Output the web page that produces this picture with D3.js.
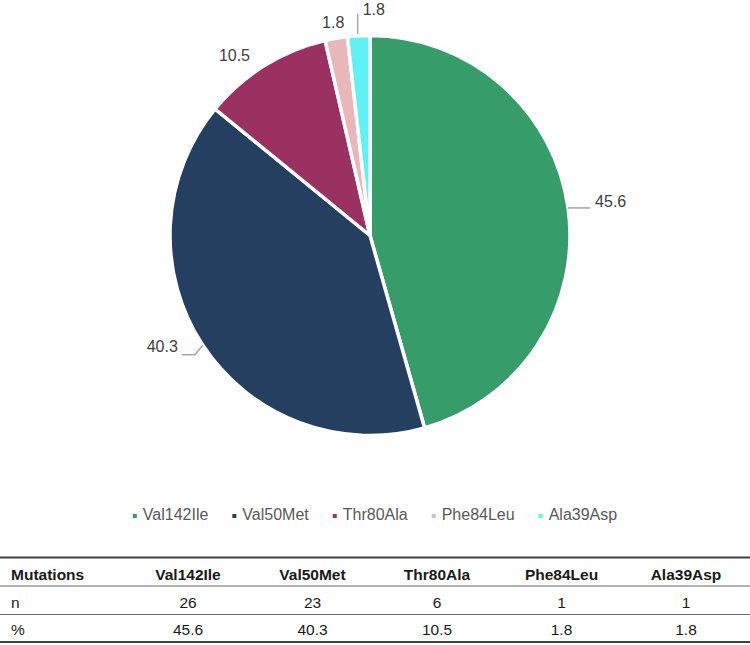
<!DOCTYPE html>
<html>
<head>
<meta charset="utf-8">
<script src="https://cdn.jsdelivr.net/npm/d3@7"></script>
<style>
  html, body { margin: 0; padding: 0; background: #fff; }
  svg { display: block; }
</style>
</head>
<body>
<svg id="chart" width="750" height="645"></svg>
<script>
// ---- data ----
const categories = ["Val142Ile", "Val50Met", "Thr80Ala", "Phe84Leu", "Ala39Asp"];
const percents   = [45.6, 40.3, 10.5, 1.8, 1.8];
const counts     = [26, 23, 6, 1, 1];
const percentLabels = ["45.6", "40.3", "10.5", "1.8", "1.8"];
const tableHeader = "Mutations";
const rowLabels = ["n", "%"];

// ---- styles / layout ----
const colors = ["#359c6a", "#243f5f", "#9a3160", "#e9b6b9", "#5ef2f4"];
const labelLayout = [
  {dx: 27, dy: -5.5, anchor: "start", leader: [[0, 0], [22, 0]]},
  {dx: -25, dy: 2.5, anchor: "end", leader: [[0, 0], [-8, 9.5], [-21, 9.5]]},
  {dx: -30, dy: -9, anchor: "middle", leader: null},
  {dx: -3, dy: -15, anchor: "middle", leader: null},
  {dx: 4, dy: -25, anchor: "start", leader: [[-1, -2], [-1, -22]]}
];

const svg = d3.select("#chart");
const cx = 370, cy = 235.5, R = 200;

const pie = d3.pie().sort(null).value(d => d)(percents);
const arc = d3.arc().innerRadius(0).outerRadius(R);

const g = svg.append("g").attr("transform", `translate(${cx},${cy})`);
g.selectAll("path.slice").data(pie).join("path")
  .attr("class", "slice")
  .attr("d", arc)
  .attr("fill", (d, i) => colors[i])
  .attr("stroke", "#fff")
  .attr("stroke-width", 3.5)
  .attr("stroke-linejoin", "miter");

// labels
pie.forEach((d, i) => {
  const a = (d.startAngle + d.endAngle) / 2;
  const px = R * Math.sin(a), py = -R * Math.cos(a);
  const L = labelLayout[i];
  if (L.leader) {
    g.append("path")
      .attr("d", d3.line()(L.leader.map(p => [px + p[0], py + p[1]])))
      .attr("fill", "none")
      .attr("stroke", "#a6a6a6")
      .attr("stroke-width", 1.5);
  }
  g.append("text")
    .attr("x", px + L.dx)
    .attr("y", py + L.dy)
    .attr("text-anchor", L.anchor)
    .attr("dominant-baseline", "middle")
    .attr("font-family", "Liberation Sans, Arial, sans-serif")
    .attr("font-size", 16)
    .attr("fill", "#404040")
    .text(percentLabels[i]);
});

// legend
const legend = svg.append("g").attr("transform", "translate(0,516)");
const items = legend.selectAll("g").data(categories).join("g");
items.append("rect").attr("width", 4).attr("height", 4).attr("y", -2)
  .attr("fill", (d, i) => colors[i]);
items.append("text").attr("x", 10).attr("y", 0)
  .attr("dominant-baseline", "middle")
  .attr("font-family", "Liberation Sans, Arial, sans-serif")
  .attr("font-size", 16)
  .attr("fill", "#595959")
  .text(d => d);
let xoff = 0;
const widths = [];
items.each(function() {
  widths.push(d3.select(this).select("text").node().getComputedTextLength());
});
const gap = 24;
const total = d3.sum(widths) + widths.length * 10 + gap * (widths.length - 1);
xoff = 375 - total / 2;
items.attr("transform", (d, i) => {
  const t = `translate(${xoff},0)`;
  xoff += 10 + widths[i] + gap;
  return t;
});

// table
const tFont = "'Liberation Sans', Arial, sans-serif";
const colX = d3.scalePoint().domain(categories).range([188, 686]);
const tbl = svg.append("g");
const lines = [{y: 557.5, w: 2}, {y: 586, w: 1}, {y: 614.5, w: 1}, {y: 642, w: 2}];
tbl.selectAll("line").data(lines).join("line")
  .attr("x1", 0).attr("x2", 750)
  .attr("y1", d => d.y).attr("y2", d => d.y)
  .attr("stroke", d => d.w > 1 ? "#404040" : "#6b6b6b")
  .attr("stroke-width", d => d.w);

function cellText(x, y, txt, anchor, bold) {
  tbl.append("text").attr("x", x).attr("y", y)
    .attr("text-anchor", anchor)
    .attr("font-family", tFont)
    .attr("font-size", 15.5)
    .attr("font-weight", bold ? "bold" : "normal")
    .attr("fill", "#1a1a1a")
    .text(txt);
}
cellText(11, 580, tableHeader, "start", true);
categories.forEach(c => cellText(colX(c), 580, c, "middle", true));
cellText(11, 608, rowLabels[0], "start", false);
counts.forEach((v, i) => cellText(colX(categories[i]), 608, String(v), "middle", false));
cellText(11, 635, rowLabels[1], "start", false);
percentLabels.forEach((v, i) => cellText(colX(categories[i]), 635, v, "middle", false));
</script>
</body>
</html>
